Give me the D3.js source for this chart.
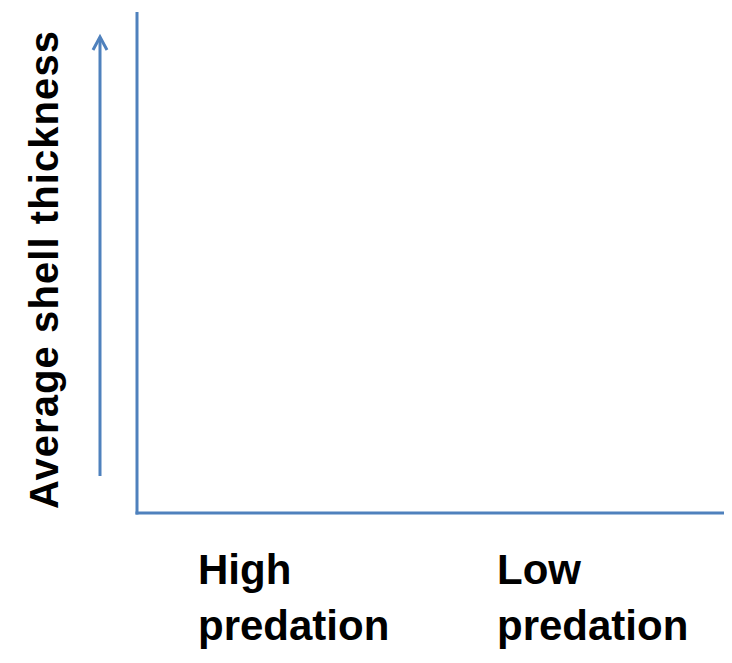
<!DOCTYPE html>
<html><head><meta charset="utf-8">
<script src="https://cdn.jsdelivr.net/npm/d3@7"></script>
<style>body{margin:0;background:#fff}</style>
</head><body>
<script>
const categories = [["High","predation"],["Low","predation"]];
const yLabel = "Average shell thickness";
const W=732,H=663, color="#4f81bd";
const svg=d3.select("body").append("svg").attr("width",W).attr("height",H);
const y=d3.scaleLinear().domain([0,1]).range([513,12]);
svg.append("line").attr("x1",137).attr("x2",137).attr("y1",y(1)).attr("y2",y(0)+1.5).attr("stroke",color).attr("stroke-width",3);
svg.append("line").attr("x1",135.5).attr("x2",724).attr("y1",y(0)).attr("y2",y(0)).attr("stroke",color).attr("stroke-width",3);
// arrow
svg.append("line").attr("x1",100).attr("x2",100).attr("y1",476).attr("y2",38).attr("stroke",color).attr("stroke-width",3);
svg.append("path").attr("d","M93,50 L100,37 L107,50").attr("fill","none").attr("stroke",color).attr("stroke-width",3);
svg.append("text").attr("transform","translate(58,270) rotate(-90)").attr("text-anchor","middle")
 .attr("font-family","Liberation Sans, Arial, sans-serif").attr("font-weight","bold").attr("font-size",40).attr("textLength",478).text(yLabel);
const xs=[198,497];
categories.forEach((c,i)=>{
  const t=svg.append("text").attr("font-family","Liberation Sans, Arial, sans-serif").attr("font-weight","bold").attr("font-size",42);
  t.append("tspan").attr("x",xs[i]).attr("y",584).text(c[0]);
  t.append("tspan").attr("x",xs[i]).attr("y",640).text(c[1]);
});
</script>
</body></html>
